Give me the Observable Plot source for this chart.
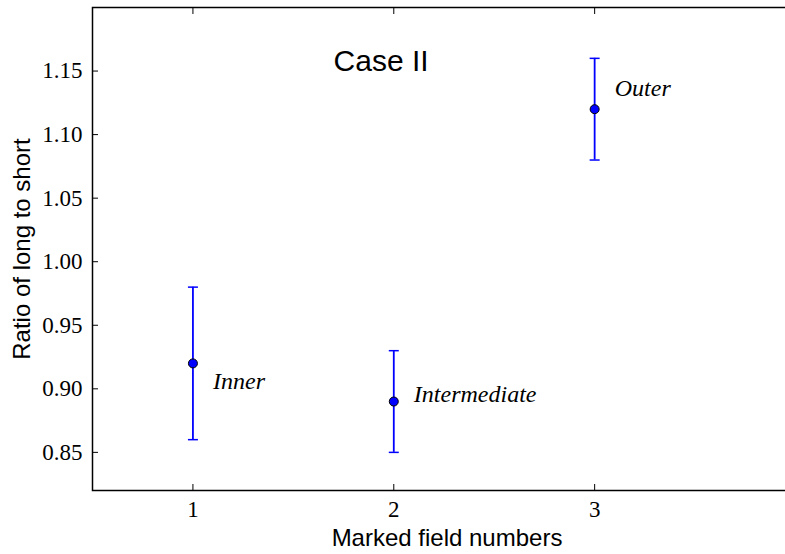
<!DOCTYPE html>
<html><head><meta charset="utf-8">
<script src="https://cdn.jsdelivr.net/npm/d3@7"></script>
<script src="https://cdn.jsdelivr.net/npm/@observablehq/plot@0.6"></script>
<style>
html,body{margin:0;padding:0;overflow:hidden;background:#fff;width:785px;height:554px}
</style>
</head><body><div id="chart"></div>
<script>
// Data
const fields = [1, 2, 3];
const ratios = [0.92, 0.89, 1.12];
const errLow = [0.86, 0.85, 1.08];
const errHigh = [0.98, 0.93, 1.16];
const labels = ["Inner", "Intermediate", "Outer"];
const labelX = [1.1, 2.1, 3.1];
const labelY = [0.90, 0.89, 1.13];
const xTicks = [1, 2, 3];
const yTicks = [0.85, 0.90, 0.95, 1.00, 1.05, 1.10, 1.15];
const titleText = ["Case II"];
const titleX = [1.7];
const titleY = [1.15];
const xLabel = "Marked field numbers";
const yLabel = "Ratio of long to short";

const rows = fields.map((f, i) => ({field: f, ratio: ratios[i], lo: errLow[i], hi: errHigh[i]}));
const labelRows = labels.map((t, i) => ({text: t, x: labelX[i], y: labelY[i]}));
const titleRows = titleText.map((t, i) => ({text: t, x: titleX[i], y: titleY[i]}));

const capSymbol = {draw(ctx, size) { const w = Math.sqrt(size / Math.PI); ctx.moveTo(-w, 0); ctx.lineTo(w, 0); }};
const serif = "Liberation Serif";
const sans = "Liberation Sans";
const fmtY = d3.format(".2f");

const chart = Plot.plot({
  width: 795,
  height: 554,
  marginTop: 7,
  marginBottom: 64,
  marginLeft: 92,
  marginRight: 0,
  style: {background: "#fff", color: "black", overflow: "visible", maxWidth: "none"},
  x: {domain: [0.5, 4], axis: null},
  y: {domain: [0.82, 1.20], axis: null},
  marks: [
    Plot.frame({stroke: "black", strokeWidth: 1.5}),
    Plot.ruleX(rows, {x: "field", y1: "lo", y2: "hi", stroke: "#0000ff", strokeWidth: 1.8}),
    Plot.dot(rows, {x: "field", y: "lo", symbol: capSymbol, r: 5, stroke: "#0000ff", strokeWidth: 1.5, fill: "none"}),
    Plot.dot(rows, {x: "field", y: "hi", symbol: capSymbol, r: 5, stroke: "#0000ff", strokeWidth: 1.5, fill: "none"}),
    Plot.dot(rows, {x: "field", y: "ratio", r: 4.5, fill: "#0000ff", stroke: "black", strokeWidth: 1}),
    Plot.text(labelRows, {x: "x", y: "y", text: "text", textAnchor: "start", lineAnchor: "bottom", fontSize: 24, fontFamily: serif, fontStyle: "italic", fill: "black"}),
    Plot.text(titleRows, {x: "x", y: "y", text: "text", textAnchor: "start", lineAnchor: "bottom", fontSize: 30, fontFamily: sans, fill: "black"}),
    // tick labels
    Plot.text(yTicks, {y: d => d, frameAnchor: "left", dx: -10, text: d => fmtY(d), textAnchor: "end", lineAnchor: "middle", fontSize: 23, fontFamily: serif, fill: "black"}),
    Plot.text(xTicks, {x: d => d, frameAnchor: "bottom", dy: 10, text: d => String(d), textAnchor: "middle", lineAnchor: "top", fontSize: 23, fontFamily: serif, fill: "black"}),
    // inward ticks
    Plot.axisY(yTicks, {anchor: "left", tickSize: -6, tickFormat: () => "", label: null}),
    Plot.axisX(xTicks, {anchor: "bottom", tickSize: -6, tickFormat: () => "", label: null}),
    Plot.axisX(xTicks, {anchor: "top", tickSize: -6, tickFormat: () => "", label: null}),
    Plot.text([xLabel], {frameAnchor: "bottom", dx: 3, dy: 48, text: d => d, textAnchor: "middle", lineAnchor: "middle", fontSize: 24, fontFamily: sans, fill: "black"}),
    Plot.text([yLabel], {frameAnchor: "left", dx: -70, text: d => d, rotate: -90, textAnchor: "middle", lineAnchor: "middle", fontSize: 24, fontFamily: sans, fill: "black"})
  ]
});
document.getElementById("chart").appendChild(chart);
</script>
</body></html>
